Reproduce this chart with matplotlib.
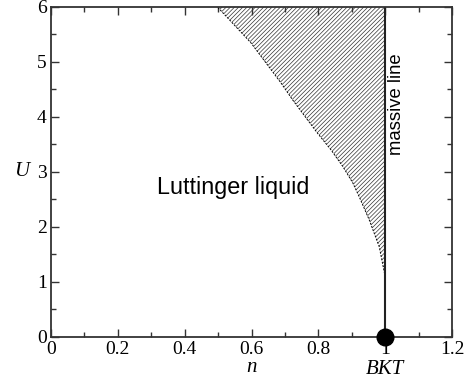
import matplotlib.pyplot as plt
import numpy as np

# phase boundary (dashed)
n_boundary = [1.0, 0.994, 0.982, 0.952, 0.922, 0.903, 0.873, 0.838, 0.798, 0.723, 0.688, 0.598, 0.498]
U_boundary = [1.09, 1.27, 1.64, 2.13, 2.55, 2.8, 3.1, 3.4, 3.7, 4.31, 4.62, 5.35, 6.0]

n_massive = [1.0, 1.0]
U_massive = [0.0, 6.0]

bkt_point = (1.0, 0.0)

x_ticks = [0, 0.2, 0.4, 0.6, 0.8, 1, 1.2]
x_ticklabels = ["0", "0.2", "0.4", "0.6", "0.8", "1", "1.2"]
y_ticks = [0, 1, 2, 3, 4, 5, 6]

plt.rcParams['hatch.linewidth'] = 0.5
plt.rcParams['hatch.color'] = '#333333'

fig = plt.figure(figsize=(4.71, 3.86), dpi=100)
ax = fig.add_axes([0.108, 0.127, 0.852, 0.855])

ax.fill_betweenx(U_boundary, n_boundary, 1.0, facecolor='none', edgecolor='#333333',
                 hatch='////////', linewidth=0)
ax.plot(n_boundary, U_boundary, color='black', linestyle=(0, (2, 1.5)), linewidth=0.7)
ax.plot(n_massive, U_massive, color='#222222', linewidth=1.5)
ax.plot([bkt_point[0]], [bkt_point[1]], 'o', color='black', markersize=12, clip_on=False, zorder=5)

ax.text(0.545, 2.71, "Luttinger liquid", family='Liberation Sans', fontsize=16.8,
        ha='center', va='center')
ax.text(1.034, 4.24, "massive line", family='Liberation Sans', fontsize=13.3,
        rotation=90, ha='center', va='center')

ax.set_xlim(0, 1.2)
ax.set_ylim(0, 6)
ax.set_xticks(x_ticks)
ax.set_xticklabels(x_ticklabels)
ax.set_yticks(y_ticks)
ax.set_xticks(np.arange(0.1, 1.2, 0.2), minor=True)
ax.set_yticks(np.arange(0.5, 6, 1.0), minor=True)
ax.tick_params(which='both', direction='in', top=True, right=True, colors='#333333',
               labelcolor='black', labelsize=14, pad=3)
ax.tick_params(which='major', length=6, width=1)
ax.tick_params(which='minor', length=3.5, width=1)
for label in ax.get_xticklabels() + ax.get_yticklabels():
    label.set_family('Liberation Serif')
for spine in ax.spines.values():
    spine.set_linewidth(1.3)
    spine.set_color('#333333')

ax.set_xlabel("n", family='Liberation Serif', style='italic', fontsize=15)
ax.xaxis.set_label_coords(0.5, -0.065)
ax.set_ylabel("U", family='Liberation Serif', style='italic', fontsize=15, rotation=0,
              va='center', ha='center')
ax.yaxis.set_label_coords(-0.072, 0.5)
ax.text(1.0, -0.1, "BKT", transform=ax.get_xaxis_transform(), family='Liberation Serif',
        style='italic', fontsize=15, ha='center', va='center')

fig.savefig("out.png", dpi=100)
